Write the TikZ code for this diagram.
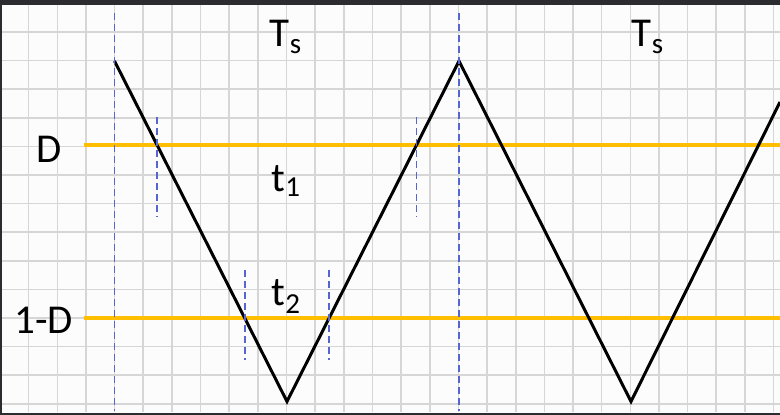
\documentclass[tikz,border=0pt]{standalone}
\usepackage{fontspec}
\setmainfont{Carlito}
\usetikzlibrary{calc}
\definecolor{gridc}{HTML}{D6D6D6}
\definecolor{lvl}{HTML}{FFBE00}
\definecolor{guide}{HTML}{5566D0}
\definecolor{framec}{HTML}{2B2B30}
\definecolor{bgc}{HTML}{FCFCFC}
\begin{document}
\begin{tikzpicture}[x=1pt,y=-1pt,
  gridline/.style={gridc, line width=1.6pt},
  levelline/.style={lvl, line width=3.4pt},
  wave/.style={black, line width=3pt},
  guideline/.style={guide, line width=1.6pt, dash pattern=on 7pt off 4pt},
  lbl/.style={inner sep=0pt, anchor=base, font=\fontsize{41}{41}\selectfont},
]
\useasboundingbox (0,0) rectangle (780,415);
\fill[bgc] (0,0) rectangle (780,415);
% grid
\foreach \k in {1,...,27} \draw[gridline] (28.65*\k,5) -- (28.65*\k,412);
\foreach \k in {1,...,14} \draw[gridline] (0,3.4+28.6*\k) -- (780,3.4+28.6*\k);
% frame
\fill[framec] (0,0) rectangle (780,5);
\fill[framec] (0,412.5) rectangle (780,415);
\fill[framec] (0,0) rectangle (1.5,415);
% level lines
\coordinate (dL) at (84,145);
\coordinate (dR) at (780,145);
\coordinate (eL) at (84,318);
\coordinate (eR) at (780,318);
\draw[levelline] (dL) -- (dR);
\draw[levelline] (eL) -- (eR);
% wave
\coordinate (p1) at (114.5,61);
\coordinate (v1) at (287,401.5);
\coordinate (p2) at (459,61);
\coordinate (v2) at (631,401.5);
\coordinate (pe) at (780,102);
\draw[wave] (p1) -- (v1) -- (p2) -- (v2) -- (pe);
% intersections
\coordinate (a1) at ($(p1)!0.2467!(v1)$);
\coordinate (b1) at ($(p1)!0.7548!(v1)$);
\coordinate (b2) at ($(v1)!0.2452!(p2)$);
\coordinate (a2) at ($(v1)!0.7533!(p2)$);
% guides
\draw[guideline] (p1 |- 0,13) -- (p1 |- 0,411);
\draw[guideline] (p2 |- 0,13) -- (p2 |- 0,411);
\draw[guideline] ($(a1)+(0,-28)$) -- ($(a1)+(0,72)$);
\draw[guideline] ($(a2)+(0,-28)$) -- ($(a2)+(0,72)$);
\draw[guideline] ($(b1)+(0,-48)$) -- ($(b1)+(0,42)$);
\draw[guideline] ($(b2)+(0,-48)$) -- ($(b2)+(0,42)$);
% labels
\node[lbl] (ts1) at (285.5,46.7) {T\raisebox{-6.5pt}{\fontsize{29}{29}\selectfont s}};
\node[lbl] (ts2) at (647.5,46.7) {T\raisebox{-6.5pt}{\fontsize{29}{29}\selectfont s}};
\node[lbl] (dlab) at (49.5,162.7) {D};
\node[lbl] (elab) at (43.5,333.3) {1-D};
\node[lbl] (t1) at (285.8,191.7) {t\raisebox{-5pt}{\fontsize{29}{29}\selectfont 1}};
\node[lbl] (t2) at (285.8,305) {t\raisebox{-8pt}{\fontsize{29}{29}\selectfont 2}};
\end{tikzpicture}
\end{document}
